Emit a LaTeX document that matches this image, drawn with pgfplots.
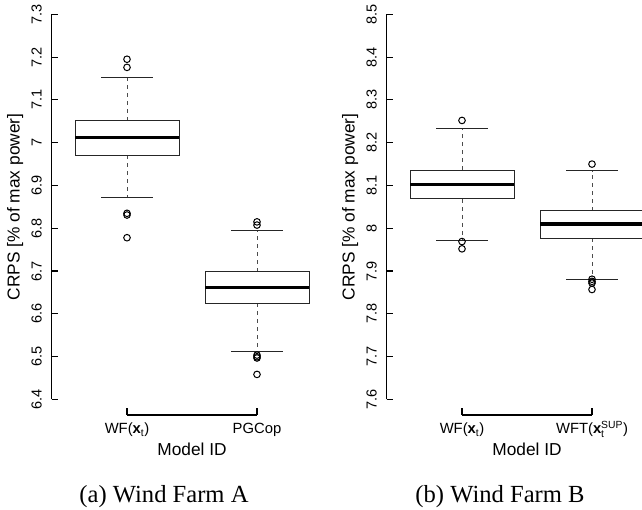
\documentclass[border=0pt]{standalone}
\usepackage{fontspec}
\setmainfont{Liberation Sans}
\newfontfamily\capfont{Liberation Serif}
\usepackage{amsmath}
\usepackage{pgfplots}
\pgfplotsset{compat=1.18}

\tikzset{axline/.style={black, line width=1.3pt}}
\pgfplotsset{
  rbox/.style={
    scale only axis,
    width=280.8pt, height=416pt,
    anchor=south west,
    xmin=0.42, xmax=2.58,
    axis line style={draw=none},
    tick align=inside,
    xtick pos=left, ytick pos=left,
    major tick length=6.5pt,
    every tick/.style={black, line width=1.2pt},
    xtick={1,2},
    /pgf/number format/assume math mode=true,
    yticklabel style={rotate=90, anchor=base, inner sep=0pt, font=\fontsize{14.5}{16}\selectfont},
    yticklabel shift=9.9pt,
    xticklabel style={anchor=base, inner sep=0pt, font=\fontsize{14.8}{16}\selectfont},
    xticklabel shift=19pt,
    xlabel={Model ID},
    ylabel={CRPS [\% of max power]},
    every axis x label/.style={at={(axis description cs:0.5,-0.0988)}, anchor=base, font=\fontsize{17.3}{20}\selectfont},
    every axis y label/.style={at={(axis description cs:-0.130,0.5)}, rotate=90, anchor=center, font=\fontsize{17.3}{20}\selectfont},
    clip=false,
  },
  boxline/.style={black!85, line width=1pt, mark=none},
  medline/.style={black, line width=3.4pt, mark=none},
  whisk/.style={black!70, line width=1pt, dash pattern=on 4pt off 4pt, mark=none},
  capline/.style={black!85, line width=1pt, mark=none},
  outl/.style={black, only marks, mark=o, mark size=3.3pt, mark options={line width=1pt}},
}

\begin{document}
\begin{tikzpicture}
\useasboundingbox (0,0) rectangle (642pt,510pt);
\clip (0,0) rectangle (642pt,510pt);

% (a) Wind Farm A
\begin{axis}[rbox, at={(51.6pt,95.1pt)},
  ymin=6.364, ymax=7.336,
  ytick={6.4,6.5,6.6,6.7,6.8,6.9,7,7.1,7.2,7.3},
  xticklabels={{WF($\textbf{x}_{\text{t}}$)},{PGCop}}]
  % WF(x_t): q1 6.971, median 7.012, q3 7.051, whiskers 6.8715 / 7.1535
  \addplot[whisk] coordinates {(1,7.051) (1,7.1535)};
  \addplot[whisk] coordinates {(1,6.971) (1,6.8715)};
  \addplot[capline] coordinates {(0.8,7.1535) (1.2,7.1535)};
  \addplot[capline] coordinates {(0.8,6.8715) (1.2,6.8715)};
  \addplot[boxline] coordinates {(0.6,6.971) (1.4,6.971) (1.4,7.051) (0.6,7.051) (0.6,6.971)};
  \addplot[medline] coordinates {(0.6,7.012) (1.4,7.012)};
  \addplot[outl] coordinates {(1,7.195) (1,7.176) (1,6.835) (1,6.831) (1,6.778)};
  % PGCop: q1 6.6245, median 6.662, q3 6.698, whiskers 6.5115 / 6.796
  \addplot[whisk] coordinates {(2,6.698) (2,6.796)};
  \addplot[whisk] coordinates {(2,6.6245) (2,6.5115)};
  \addplot[capline] coordinates {(1.8,6.796) (2.2,6.796)};
  \addplot[capline] coordinates {(1.8,6.5115) (2.2,6.5115)};
  \addplot[boxline] coordinates {(1.6,6.6245) (2.4,6.6245) (2.4,6.698) (1.6,6.698) (1.6,6.6245)};
  \addplot[medline] coordinates {(1.6,6.662) (2.4,6.662)};
  \addplot[outl] coordinates {(2,6.815) (2,6.8075) (2,6.5037) (2,6.4998) (2,6.497) (2,6.4586)};
  \draw[axline] (axis cs:0.42,6.4) -- (axis cs:0.42,7.3);
  \draw[axline] (axis cs:1,6.364) -- (axis cs:2,6.364);
\end{axis}

% (b) Wind Farm B
\begin{axis}[rbox, at={(386.6pt,95.1pt)},
  ymin=7.564, ymax=8.536,
  ytick={7.6,7.7,7.8,7.9,8,8.1,8.2,8.3,8.4,8.5},
  xticklabels={{WF($\textbf{x}_{\text{t}}$)},{WFT($\textbf{x}_{\text{t}}^{\text{SUP}}$)}}]
  % WF(x_t): q1 8.069, median 8.102, q3 8.136, whiskers 7.972 / 8.233
  \addplot[whisk] coordinates {(1,8.136) (1,8.233)};
  \addplot[whisk] coordinates {(1,8.069) (1,7.972)};
  \addplot[capline] coordinates {(0.8,8.233) (1.2,8.233)};
  \addplot[capline] coordinates {(0.8,7.972) (1.2,7.972)};
  \addplot[boxline] coordinates {(0.6,8.069) (1.4,8.069) (1.4,8.136) (0.6,8.136) (0.6,8.069)};
  \addplot[medline] coordinates {(0.6,8.102) (1.4,8.102)};
  \addplot[outl] coordinates {(1,8.252) (1,7.969) (1,7.952)};
  % WFT(x_t^SUP): q1 7.977, median 8.010, q3 8.041, whiskers 7.880 / 8.135
  \addplot[whisk] coordinates {(2,8.041) (2,8.135)};
  \addplot[whisk] coordinates {(2,7.977) (2,7.880)};
  \addplot[capline] coordinates {(1.8,8.135) (2.2,8.135)};
  \addplot[capline] coordinates {(1.8,7.880) (2.2,7.880)};
  \addplot[boxline] coordinates {(1.6,7.977) (2.4,7.977) (2.4,8.041) (1.6,8.041) (1.6,7.977)};
  \addplot[medline] coordinates {(1.6,8.010) (2.4,8.010)};
  \addplot[outl] coordinates {(2,8.150) (2,7.881) (2,7.876) (2,7.872) (2,7.857)};
  \draw[axline] (axis cs:0.42,7.6) -- (axis cs:0.42,8.5);
  \draw[axline] (axis cs:1,7.564) -- (axis cs:2,7.564);
\end{axis}

\node[anchor=base, font=\capfont\fontsize{24.6}{28}\selectfont] at (164pt,7.3pt) {(a) Wind Farm A};
\node[anchor=base, font=\capfont\fontsize{24.6}{28}\selectfont] at (500pt,7.3pt) {(b) Wind Farm B};
\end{tikzpicture}
\end{document}
